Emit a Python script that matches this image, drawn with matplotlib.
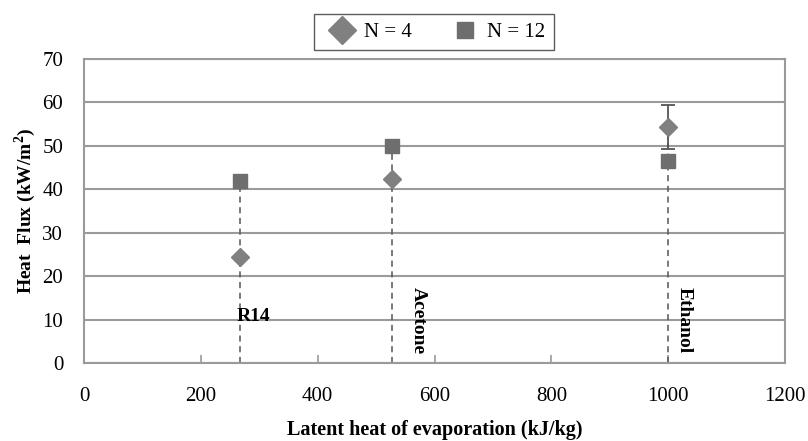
import matplotlib
matplotlib.use("Agg")
from matplotlib import pyplot as plt
from matplotlib.lines import Line2D

# latent heat (kJ/kg) of each fluid and the measured heat flux (kW/m2)
fluids = ["R14", "Acetone", "Ethanol"]
latent_heat = [267, 527, 1000]
flux_n4 = [24.3, 42.3, 54.3]
flux_n12 = [41.9, 50.0, 46.5]
err_n4 = [0, 0, 5.0]

xticks = [0, 200, 400, 600, 800, 1000, 1200]
yticks = [0, 10, 20, 30, 40, 50, 60, 70]

plt.rcParams['font.family'] = ['Liberation Serif', 'DejaVu Serif']

grey_line = '#9a9a9a'
grey_mark = '#808080'
grey_sq = '#6e6e6e'

fig = plt.figure(figsize=(8.08, 4.41), dpi=100)
ax = fig.add_axes([84/808, (441-363)/441, (785-84)/808, (363-59)/441])

ax.set_xlim(0, 1200)
ax.set_ylim(0, 70)
ax.set_xticks(xticks)
ax.set_yticks(yticks)
ax.tick_params(axis='x', direction='in', length=6, width=1.2, color=grey_line,
               labelsize=15, pad=17)
ax.tick_params(axis='y', length=0, labelsize=15, pad=15)
ax.yaxis.grid(True, color=grey_line, linewidth=1.5)
ax.set_axisbelow(True)
for side in ['left', 'bottom', 'right', 'top']:
    ax.spines[side].set_color(grey_line)
    ax.spines[side].set_linewidth(1.5)

# dashed drop lines from the axis up to the highest point of each fluid
tops = [max(a, b) for a, b in zip(flux_n4, flux_n12)]
ax.vlines(latent_heat, 0, tops, colors='#555555', linestyles=(0, (4, 3)),
          linewidth=1.1, zorder=2)

ax.errorbar(latent_heat, flux_n4, yerr=err_n4, fmt='none', ecolor='#555555',
            elinewidth=1.3, capsize=5, capthick=1.3, zorder=3)
ax.plot(latent_heat, flux_n4, linestyle='none', marker='D', markersize=9,
        color=grey_mark, zorder=4)
ax.plot(latent_heat, flux_n12, linestyle='none', marker='s', markersize=10,
        color=grey_sq, zorder=4)

# fluid names
ax.text(latent_heat[0] - 5, 10.6, fluids[0], fontsize=14, fontweight='bold',
        ha='left', va='center')
ax.text(573, 17.6, fluids[1], fontsize=14, fontweight='bold', rotation=270,
        ha='center', va='top')
ax.text(1027, 17.6, fluids[2], fontsize=14, fontweight='bold', rotation=270,
        ha='center', va='top')

ax.set_xlabel('Latent heat of evaporation (kJ/kg)', fontsize=14.5,
              fontweight='bold', va='center')
ax.xaxis.set_label_coords(0.5, (363 - 430) / 304)
ax.set_ylabel('Heat  Flux (kW/m$^\\mathregular{2}$)', fontsize=14,
              fontweight='bold', va='center')
ax.yaxis.set_label_coords((25 - 84) / 701, 0.5)

handles = [Line2D([], [], linestyle='none', marker='D', markersize=14,
                  color=grey_mark, label='N = 4'),
           Line2D([], [], linestyle='none', marker='s', markersize=12,
                  color=grey_sq, label='N = 12')]
leg = fig.legend(handles=handles, loc='center', ncol=2,
                 bbox_to_anchor=(434/808, 1 - 32/441), fontsize=15,
                 frameon=True, fancybox=False, edgecolor='#333333',
                 handletextpad=0.1, columnspacing=1.6, borderpad=0.4,
                 handlelength=1.9)
leg.get_frame().set_linewidth(1.0)

fig.savefig('out.png', dpi=100)
